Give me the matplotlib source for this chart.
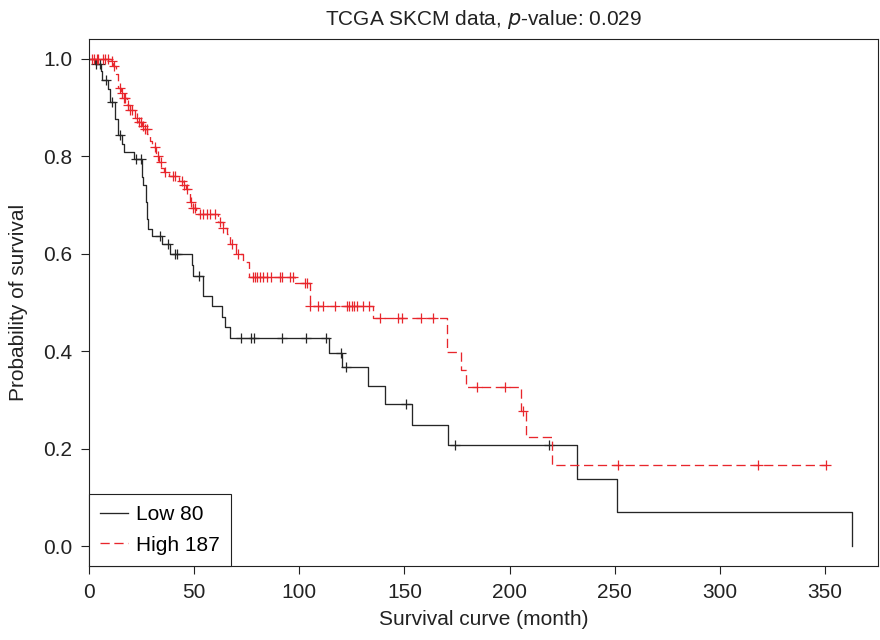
import numpy as np
import matplotlib.pyplot as plt

plt.rcParams["font.family"] = ["Liberation Sans", "DejaVu Sans"]

# Kaplan-Meier steps (months, survival after the drop)
low_times = [2.9, 5.5, 6.0, 9.2, 10.0, 12.4, 13.9, 15.8, 16.8, 21.4, 25.0, 25.7,
             27.1, 27.6, 28.2, 29.8, 34.9, 38.5, 48.8, 49.6, 54.0, 58.3, 63.1,
             64.7, 67.0, 114.3, 120.1, 132.8, 140.8, 153.7, 170.9, 232.2, 250.9, 363.0]
low_surv = [0.988, 0.975, 0.955, 0.938, 0.911, 0.877, 0.844, 0.825, 0.808, 0.795,
            0.757, 0.740, 0.706, 0.671, 0.651, 0.637, 0.620, 0.600, 0.576, 0.555,
            0.514, 0.493, 0.470, 0.449, 0.428, 0.396, 0.367, 0.328, 0.292, 0.249,
            0.208, 0.139, 0.070, 0.0]
low_censor = [3.5, 5.0, 7.9, 11.0, 14.7, 22.5, 24.5, 34.0, 37.7, 40.9, 42.0, 52.5,
              72.3, 76.9, 78.5, 92.0, 103.3, 112.8, 119.8, 122.0, 150.7, 174.0, 218.9]

high_times = [10.5, 11.5, 13.0, 14.0, 15.0, 16.5, 18.0, 19.5, 22.0, 23.5, 25.0, 26.0,
              27.5, 29.0, 30.0, 32.0, 33.3, 34.3, 35.5, 38.0, 43.0, 44.8, 46.0, 48.0,
              49.5, 51.0, 61.5, 63.5, 65.5, 67.0, 70.0, 73.0, 76.0, 98.0, 105.1,
              135.2, 170.3, 176.9, 179.2, 205.4, 207.6, 220.3]
high_surv = [0.994, 0.984, 0.968, 0.940, 0.930, 0.920, 0.905, 0.895, 0.878, 0.870,
             0.862, 0.855, 0.845, 0.830, 0.818, 0.800, 0.788, 0.776, 0.768, 0.760,
             0.750, 0.740, 0.733, 0.705, 0.693, 0.682, 0.665, 0.652, 0.640, 0.620,
             0.600, 0.582, 0.553, 0.539, 0.492, 0.469, 0.399, 0.362, 0.327, 0.278,
             0.225, 0.168]
high_censor = [1.5, 2.5, 3.7, 4.5, 6.8, 7.6, 9.0, 10.8, 11.8, 14.7, 15.5, 16.5, 17.1,
               18.7, 19.5, 20.3, 22.7, 23.8, 24.5, 25.5, 26.6, 27.4, 31.4, 33.0,
               34.1, 36.1, 40.0, 41.0, 44.0, 45.2, 46.4, 48.5, 49.5, 50.4, 52.8,
               54.4, 56.0, 57.5, 59.9, 62.3, 63.9, 67.8, 71.0, 78.1, 78.9, 80.0,
               81.3, 82.9, 84.5, 86.4, 90.8, 91.6, 95.5, 97.1, 102.7, 103.8, 105.1,
               109.0, 111.1, 116.9, 122.5, 123.7, 124.9, 126.0, 127.3, 130.4, 133.3,
               138.4, 147.1, 148.7, 157.7, 163.7, 184.6, 197.9, 206.2, 251.7, 318.3,
               350.7]
high_end = 350.7

group_labels = ["Low 80", "High 187"]
x_ticks = [0, 50, 100, 150, 200, 250, 300, 350]
y_ticks = [0.0, 0.2, 0.4, 0.6, 0.8, 1.0]

LOW_COLOR = "#262626"
HIGH_COLOR = "#e8262c"
TEXT_COLOR = "#222222"


def km_path(times, surv, end=None):
    t = [0.0] + list(times)
    s = [1.0] + list(surv)
    if end is not None:
        t.append(end)
        s.append(s[-1])
    return np.array(t), np.array(s)


def censor_levels(times, surv, censor):
    # survival value in effect at each censoring time (right-continuous)
    idx = np.searchsorted(np.array(times), np.array(censor), side="right")
    return np.concatenate([[1.0], surv])[idx]


fig = plt.figure(figsize=(8.8, 6.4), dpi=100)
ax = fig.add_axes([89 / 880, 1 - 566 / 640, (878 - 89) / 880, (566 - 39) / 640])

t, s = km_path(low_times, low_surv)
(low_line,) = ax.step(t, s, where="post", color=LOW_COLOR, lw=0.95)
ax.plot(low_censor, censor_levels(low_times, low_surv, low_censor), "+",
        color=LOW_COLOR, ms=7, mew=0.9)

t, s = km_path(high_times, high_surv, high_end)
(high_line,) = ax.step(t, s, where="post", color=HIGH_COLOR, lw=0.95,
                       linestyle=(0, (7, 3.5)))
ax.plot(high_censor, censor_levels(high_times, high_surv, high_censor), "+",
        color=HIGH_COLOR, ms=7, mew=0.9)

ax.set_xlim(0, 375.2)
ax.set_ylim(-0.04, 1.04)
ax.set_xticks(x_ticks)
ax.set_yticks(y_ticks)
ax.set_yticklabels([f"{v:.1f}" for v in y_ticks])
ax.tick_params(direction="out", length=6, width=0.8, labelsize=15, colors=TEXT_COLOR)
ax.tick_params(axis="x", pad=6)
ax.tick_params(axis="y", pad=6)
for sp in ax.spines.values():
    sp.set_linewidth(0.8)
    sp.set_color(TEXT_COLOR)

ax.set_xlabel("Survival curve (month)", fontsize=15, color=TEXT_COLOR, labelpad=6)
ax.set_ylabel("Probability of survival", fontsize=15, color=TEXT_COLOR, labelpad=11)
ax.set_title("TCGA SKCM data, $\\it{p}$-value: 0.029", fontsize=15,
             color=TEXT_COLOR, pad=10)

leg = ax.legend([low_line, high_line], group_labels, loc="lower left",
                bbox_to_anchor=(0, 0), borderaxespad=0, fancybox=False,
                framealpha=1, edgecolor=TEXT_COLOR, fontsize=15, handlelength=1.3,
                handletextpad=0.4, borderpad=0.55, labelspacing=0.55)
leg.get_frame().set_linewidth(0.8)

fig.savefig("out.png", dpi=100)
